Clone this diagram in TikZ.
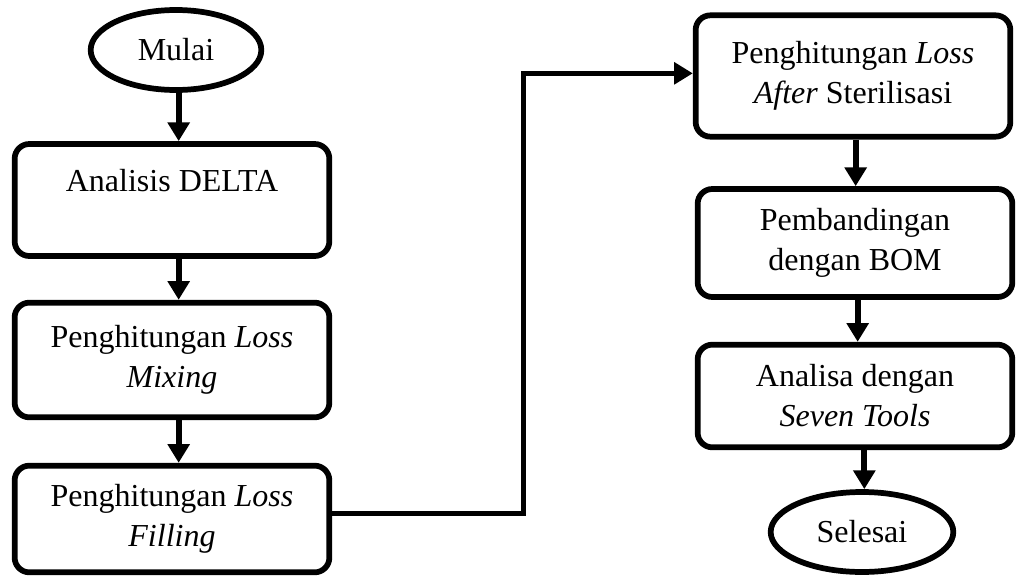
\documentclass[tikz,border=0pt]{standalone}
\usepackage{fontspec}
\setmainfont{Liberation Serif}
\usetikzlibrary{arrows.meta,shapes.geometric}

\begin{document}
\begin{tikzpicture}[x=0.75pt,y=-0.75pt,
    font=\fontsize{24}{30}\selectfont,
    arr/.style={draw=black,line width=4.6pt,-{Triangle[length=14pt,width=16pt]}}]
\useasboundingbox (0,0) rectangle (1017,578);
\begin{scope}[every node/.style={draw,line width=4.3pt,align=center,inner sep=0pt}]
    \node[ellipse,minimum width=128pt,minimum height=60pt] (mulai) at (176,50) {Mulai};
    \node[rounded corners=11pt,minimum width=236pt,minimum height=84pt] (delta) at (172,200) {Analisis DELTA\\~};
    \node[rounded corners=11pt,minimum width=236pt,minimum height=86pt] (mixing) at (172,360) {Penghitungan \textit{Loss}\\\textit{Mixing}};
    \node[rounded corners=11pt,minimum width=236pt,minimum height=80pt] (filling) at (172,519) {Penghitungan \textit{Loss}\\\textit{Filling}};
    \node[rounded corners=11pt,minimum width=236pt,minimum height=91pt] (steril) at (853,76) {Penghitungan \textit{Loss}\\\textit{After} Sterilisasi};
    \node[rounded corners=11pt,minimum width=236pt,minimum height=81pt] (bom) at (855,243) {Pembandingan\\dengan BOM};
    \node[rounded corners=11pt,minimum width=236pt,minimum height=77pt] (seven) at (855,396) {Analisa dengan\\\textit{Seven Tools}};
    \node[ellipse,minimum width=137pt,minimum height=60pt] (selesai) at (862,532) {Selesai};
\end{scope}
\begin{scope}
    \draw[arr] ([xshift=2pt]mulai.south) -- ([xshift=2pt]mulai.south |- delta.north);
    \draw[arr] ([xshift=5pt]delta.south) -- ([xshift=5pt]delta.south |- mixing.north);
    \draw[arr] ([xshift=5pt]mixing.south) -- ([xshift=5pt]mixing.south |- filling.north);
    \draw[arr,line width=3.8pt] ([yshift=4pt]filling.east) -- ++(191,0) |- ([yshift=2pt]steril.west);
    \draw[arr] ([xshift=2pt]steril.south) -- ([xshift=2pt]steril.south |- bom.north);
    \draw[arr] ([xshift=2pt]bom.south) -- ([xshift=2pt]bom.south |- seven.north);
    \draw[arr] ([xshift=7pt]seven.south) -- ([xshift=7pt]seven.south |- selesai.north);
\end{scope}
\end{tikzpicture}
\end{document}
